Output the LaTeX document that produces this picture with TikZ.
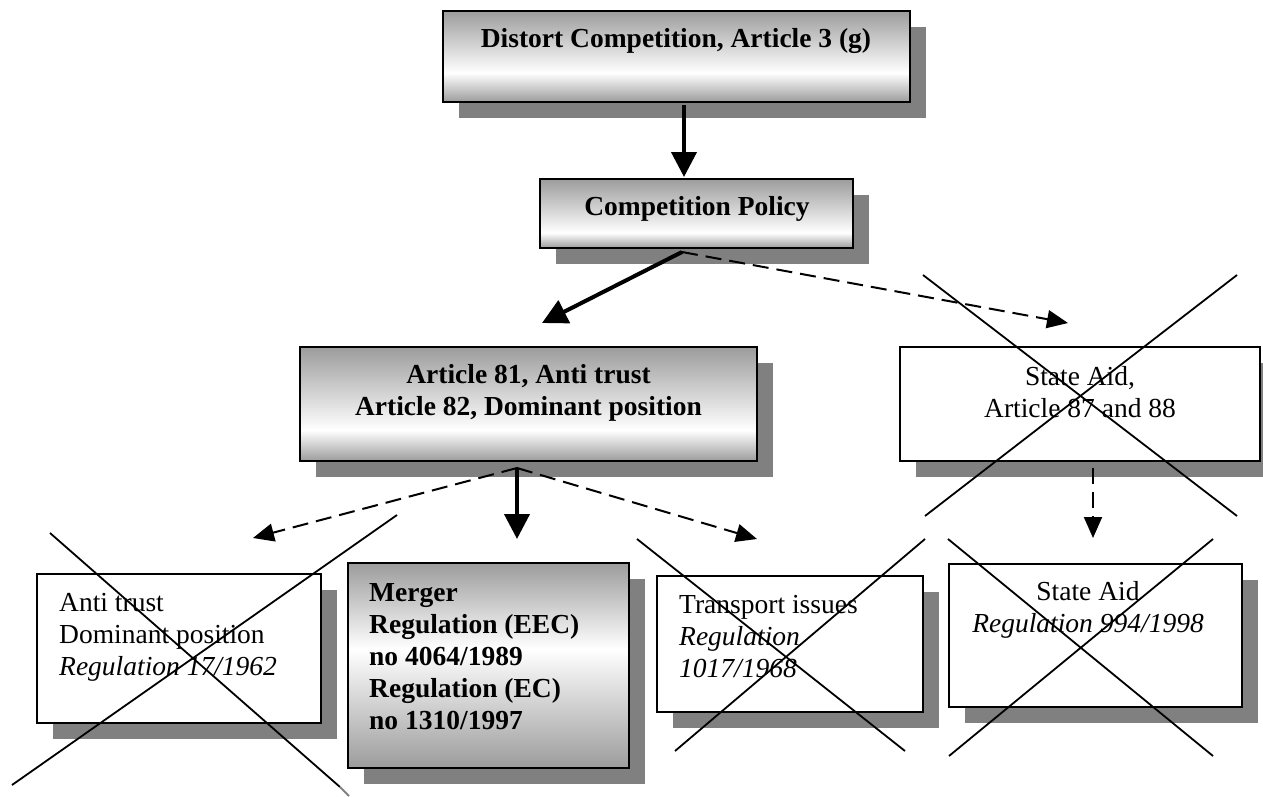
\documentclass[tikz,border=0pt]{standalone}
\usepackage{fontspec}
\setmainfont{Liberation Serif}
\usetikzlibrary{arrows.meta,shadows}

\definecolor{shadowgray}{RGB}{128,128,128}
\definecolor{fadegray}{RGB}{156,156,156}

% gray -> white -> gray fills; the box itself spans 25bp (bottom) to 75bp (top)
\pgfdeclareverticalshading{fadeTop}{100bp}{color(0bp)=(fadegray); color(25bp)=(fadegray); color(41bp)=(white); color(75bp)=(fadegray); color(100bp)=(fadegray)}
\pgfdeclareverticalshading{fadePolicy}{100bp}{color(0bp)=(fadegray); color(25bp)=(fadegray); color(36bp)=(white); color(75bp)=(fadegray); color(100bp)=(fadegray)}
\pgfdeclareverticalshading{fadeArticle}{100bp}{color(0bp)=(fadegray); color(25bp)=(fadegray); color(38.5bp)=(white); color(75bp)=(fadegray); color(100bp)=(fadegray)}
\pgfdeclareverticalshading{fadeMerger}{100bp}{color(0bp)=(fadegray); color(25bp)=(fadegray); color(54bp)=(white); color(75bp)=(fadegray); color(100bp)=(fadegray)}

\tikzset{
  box/.style={draw=black, line width=2pt, inner sep=0pt,
    general shadow={fill=shadowgray, shadow xshift=16pt, shadow yshift=-16pt}},
  plainbox/.style={box, fill=white},
  fadebox/.style={box, shading=#1},
  boxtext/.style={inner sep=0pt, font=\fontsize{27.5}{32}\selectfont},
  boldtext/.style={inner sep=0pt, font=\fontsize{27.5}{32}\selectfont\bfseries},
  thickarrow/.style={line width=4pt, -{Triangle[length=25pt,width=25pt]}},
  dasharrow/.style={line width=2pt, dash pattern=on 16pt off 8pt,
    -{Triangle[length=21pt,width=18pt]}},
  xline/.style={line width=1.8pt}
}

\begin{document}
\begin{tikzpicture}[x=1pt,y=-1pt]
\useasboundingbox (0,0) rectangle (1263,796);

% boxes
\node[fadebox=fadeTop, minimum width=467, minimum height=91] (b1) at (676.5,56.5) {};
\node[fadebox=fadePolicy, minimum width=313, minimum height=69] (b2) at (696.5,213.5) {};
\node[fadebox=fadeArticle, minimum width=457, minimum height=114] (b3) at (528.5,404) {};
\node[plainbox, minimum width=360, minimum height=114] (b4) at (1080,404) {};
\node[plainbox, minimum width=284, minimum height=149] (b5) at (179,648.5) {};
\node[fadebox=fadeMerger, minimum width=281, minimum height=205] (b6) at (488.5,665.5) {};
\node[plainbox, minimum width=266, minimum height=136] (b7) at (790,644) {};
\node[plainbox, minimum width=293, minimum height=143] (b8) at (1095.5,635.5) {};

% texts
\node[boldtext, anchor=base] (t1) at (676,47) {Distort Competition, Article 3 (g)};
\node[boldtext, anchor=base] (t2) at (697,215) {Competition Policy};
\node[boldtext, align=center, anchor=north] (t3) at (528.5,363)
  {\rule{0pt}{20pt}Article 81, Anti trust\\Article 82, Dominant position};
\node[boxtext, align=center, anchor=north] (t4) at (1080,365)
  {\rule{0pt}{20pt}State Aid,\\Article 87 and 88};
\node[boxtext, align=left, anchor=north west] (t5) at (59,591)
  {\rule{0pt}{20pt}Anti trust\\Dominant position\\\textit{Regulation 17/1962}};
\node[boldtext, align=left, anchor=north west] (t6) at (369,581)
  {\rule{0pt}{20pt}Merger\\Regulation (EEC)\\no 4064/1989\\Regulation (EC)\\no 1310/1997};
\node[boxtext, align=left, anchor=north west] (t7) at (679,593)
  {\rule{0pt}{20pt}Transport issues\\\textit{Regulation}\\\textit{1017/1968}};
\node[boxtext, align=center, anchor=north] (t8) at (1088,580)
  {\rule{0pt}{20pt}State Aid\\\textit{Regulation 994/1998}};

% connector ends
\coordinate (b1out) at ([xshift=7.5pt,yshift=-2pt]b1.south);
\coordinate (b2in) at (684,177);
\coordinate (b2fork) at ([xshift=-14.5pt,yshift=-3pt]b2.south);
\coordinate (b3in) at (542,323);
\coordinate (b4in) at (1068,323);
\coordinate (b3fork) at ([xshift=-11.5pt,yshift=-6pt]b3.south);
\coordinate (b5in) at (253,538);
\coordinate (b6in) at (517,539);
\coordinate (b7in) at (757,539);
\coordinate (b4fork) at ([xshift=13pt,yshift=-6pt]b4.south);
\coordinate (b8in) at (1093,538);

% connectors
\draw[thickarrow] (b1out) -- (b2in);
\draw[thickarrow] (b2fork) -- (b3in);
\draw[dasharrow] (b2fork) -- (b4in);
\draw[thickarrow] (b3fork) -- (b6in);
\draw[dasharrow] (b3fork) -- (b5in);
\draw[dasharrow] (b3fork) -- (b7in);
\draw[dasharrow] (b4fork) -- (b8in);

% crossed-out boxes
\draw[xline] (923,275) -- (1237,516) (1237,275) -- (925,516);
\draw[xline] (948,539) -- (1213,756) (1213,539) -- (949,756);
\draw[xline] (637,539) -- (905,751) (925,539) -- (675,751);
\draw[xline] (50,533) -- (340,787) (397,515) -- (12,785);
\draw[xline, shadowgray] (340,787) -- (349,796);
\end{tikzpicture}
\end{document}
